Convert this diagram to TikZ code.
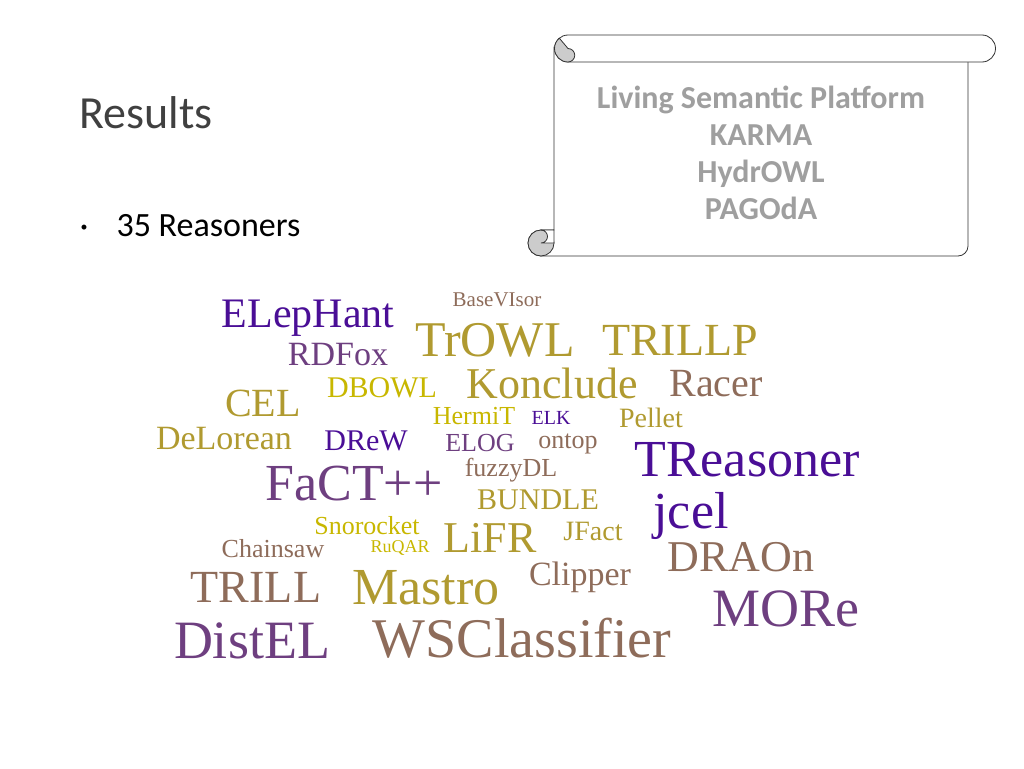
\documentclass[tikz,border=0pt]{standalone}
\usepackage{fontspec}
\setmainfont{Carlito}
\newfontfamily\cloudfont{Liberation Serif}
\begin{document}
\begin{tikzpicture}[x=1pt,y=-1pt,
  w/.style={font=\cloudfont\fontsize{#1}{#1}\selectfont,inner sep=0pt,anchor=center},
  scrolltxt/.style={font=\bfseries\fontsize{32}{37}\selectfont,text=gray!75,align=center},
  roll/.style={draw=black!80,line width=0.8pt}]
\definecolor{ind}{HTML}{4A0E96}
\definecolor{pur}{HTML}{6E3F80}
\definecolor{gold}{HTML}{B09A30}
\definecolor{brn}{HTML}{8E6C5A}
\definecolor{yel}{HTML}{C8B700}
\useasboundingbox (0,0) rectangle (1024,768);
% title
\node[anchor=west,font=\fontsize{46}{46}\selectfont,text=black!75] (title) at (76,113) {Results};
\node[anchor=west,font=\fontsize{14}{14}\selectfont] (bul) at (77,228) {\textbullet};
\node[anchor=west,font=\fontsize{34}{34}\selectfont] (r35) at (113,226) {35 Reasoners};
% scroll
\begin{scope}[y=1pt]
\draw[roll,fill=white] (568,-47) -- (968,-47) -- (968,-246) arc[start angle=0,end angle=-90,radius=10] -- (541,-256) arc[start angle=270,end angle=90,radius=13] -- (554,-230) -- (554,-47) -- cycle;
\draw[roll,fill=black!20] (541,-243) circle[radius=13];
\draw[roll,fill=white] (541,-230) arc[start angle=90,end angle=-90,radius=6.5] -- (554,-243) -- (554,-230) -- cycle;
\draw[roll,fill=white] (568,-35) -- (982,-35) arc[start angle=90,end angle=-90,radius=13.5] -- (568,-62) arc[start angle=270,end angle=90,radius=13.5];
\draw[roll,fill=black!20] (568,-48.5) arc[start angle=90,end angle=-90,radius=6.75] arc[start angle=270,end angle=130,radius=13.5] -- cycle;
\end{scope}
\node[scrolltxt] (sc) at (761,153) {Living Semantic Platform\\KARMA\\HydrOWL\\PAGOdA};
% cloud
\node[w=21,text=brn] (n1) at (497,300) {BaseVIsor};
\node[w=42,text=ind] (n2) at (308,318) {ELepHant};
\node[w=50,text=gold] (n3) at (495,340) {TrOWL};
\node[w=46,text=gold] (n4) at (680,340) {TRILLP};
\node[w=34,text=pur] (n5) at (338,355) {RDFox};
\node[w=30,text=yel] (n6) at (382,388) {DBOWL};
\node[w=44,text=gold] (n7) at (552,383) {Konclude};
\node[w=40,text=brn] (n8) at (716,384) {Racer};
\node[w=40,text=gold] (n9) at (263,403) {CEL};
\node[w=26,text=yel] (n10) at (474,416) {HermiT};
\node[w=20,text=ind] (n11) at (551,418) {ELK};
\node[w=28,text=gold] (n12) at (651,418) {Pellet};
\node[w=34,text=gold] (n13) at (224,439) {DeLorean};
\node[w=30,text=ind] (n14) at (366,441) {DReW};
\node[w=26,text=pur] (n15) at (480,443) {ELOG};
\node[w=26,text=brn] (n16) at (568,444) {ontop};
\node[w=52,text=ind] (n17) at (747,460) {TReasoner};
\node[w=26,text=brn] (n18) at (511,470) {fuzzyDL};
\node[w=52,text=pur] (n19) at (354,484) {FaCT++};
\node[w=30,text=gold] (n20) at (538,500) {BUNDLE};
\node[w=52,text=ind] (n21) at (691,516) {jcel};
\node[w=26,text=yel] (n22) at (367,526) {Snorocket};
\node[w=28,text=gold] (n23) at (593,531) {JFact};
\node[w=44,text=gold] (n24) at (490,538) {LiFR};
\node[w=26,text=brn] (n25) at (273,549) {Chainsaw};
\node[w=18,text=yel] (n26) at (400,548) {RuQAR};
\node[w=44,text=brn] (n27) at (741,557) {DRAOn};
\node[w=34,text=brn] (n28) at (580,577) {Clipper};
\node[w=46,text=brn] (n29) at (256,587) {TRILL};
\node[w=52,text=gold] (n30) at (426,588) {Mastro};
\node[w=54,text=pur] (n31) at (786,609) {MORe};
\node[w=54,text=pur] (n32) at (252,641) {DistEL};
\node[w=56,text=brn] (n33) at (522,638) {WSClassifier};
\end{tikzpicture}
\end{document}
